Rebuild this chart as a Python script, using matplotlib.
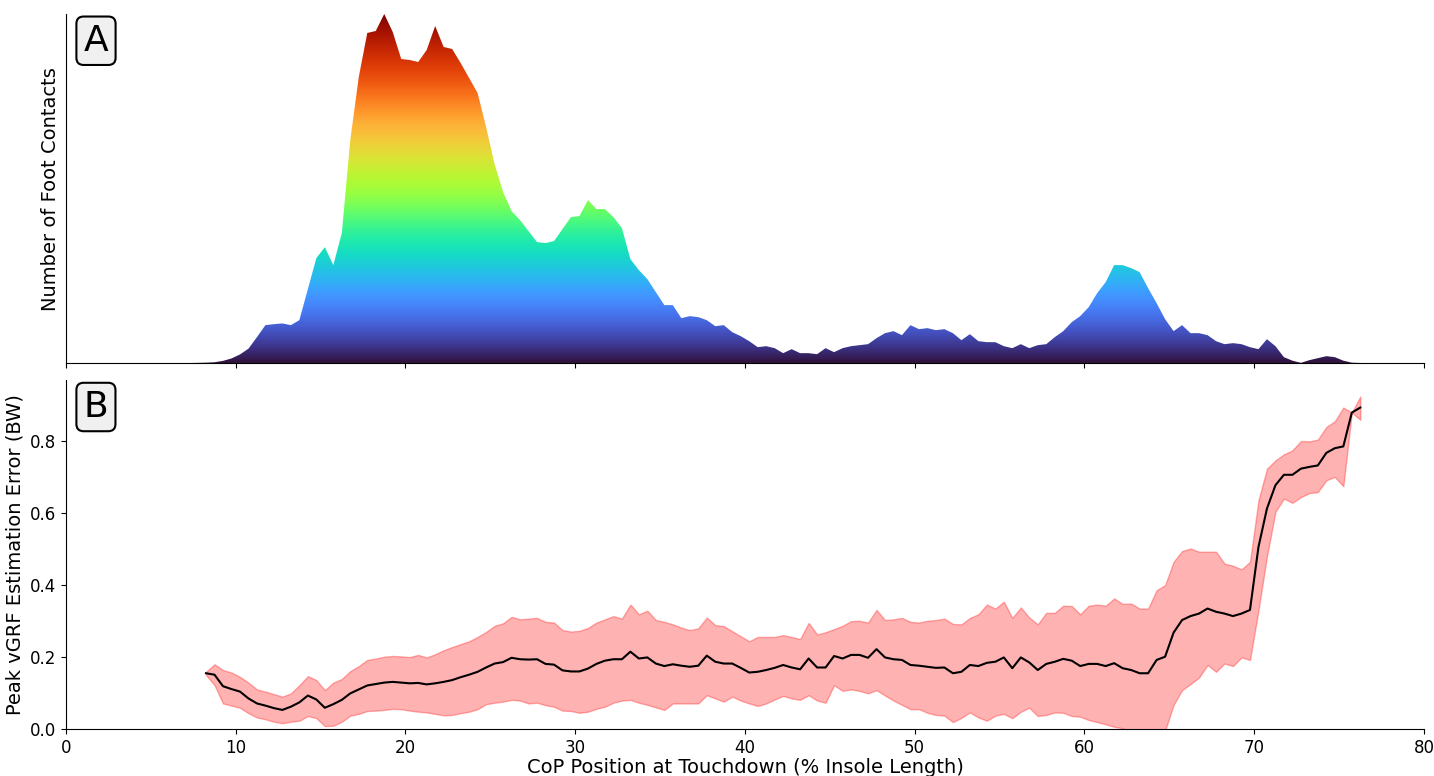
import numpy as np
import matplotlib
matplotlib.use('Agg')
import matplotlib.pyplot as plt

# panel A: foot contact counts per 0.5 % bin (centres start at 6.75)
contact_start = 6.75
contact_counts = [
    0, 0.1, 0.3, 0.5, 0.9, 2.3, 4.7, 8.7, 14.5, 26,
    38, 39, 39.7, 38, 43, 74, 105, 116, 98, 130,
    223, 286, 330, 332, 349, 331, 304, 303, 301, 313,
    337, 316, 314, 300, 285, 270, 236, 199, 171, 152,
    143, 132, 121, 120, 122, 134, 146, 147, 163, 154,
    154, 146, 135, 104, 93, 84, 71, 58, 58, 45,
    47, 46, 43, 37, 38, 31, 27, 22, 16, 17,
    15, 10, 14, 10, 10, 9, 15, 11, 15, 17,
    18, 19, 25, 30, 32, 28, 38, 34, 35, 33,
    34, 30, 23, 29, 22, 21, 21, 17, 15, 19,
    15, 18, 19, 26, 32, 41, 47, 56, 70, 81,
    98, 98, 95, 91, 75, 60, 44, 32, 38, 30,
    30, 28, 22, 19, 20, 19, 16, 14, 24, 17,
    6, 2.5, 0.3, 3, 5, 7, 6, 2.5, 0.5, 0.2,
    0.1, 0,
]

# panel B: peak vGRF error (BW), bins start at 8.25
error_start = 8.25
error_mean = [
    0.155, 0.151, 0.119, 0.111, 0.104, 0.085, 0.071, 0.065, 0.058, 0.053,
    0.062, 0.074, 0.093, 0.082, 0.059, 0.069, 0.081, 0.099, 0.110, 0.121,
    0.125, 0.129, 0.131, 0.129, 0.127, 0.128, 0.124, 0.127, 0.131, 0.136,
    0.144, 0.151, 0.159, 0.171, 0.182, 0.186, 0.198, 0.194, 0.193, 0.194,
    0.181, 0.179, 0.163, 0.160, 0.160, 0.168, 0.181, 0.190, 0.194, 0.194,
    0.215, 0.196, 0.199, 0.182, 0.175, 0.180, 0.176, 0.173, 0.176, 0.204,
    0.187, 0.182, 0.182, 0.170, 0.157, 0.159, 0.164, 0.170, 0.178, 0.171,
    0.166, 0.196, 0.171, 0.171, 0.203, 0.196, 0.206, 0.206, 0.198, 0.222,
    0.199, 0.194, 0.192, 0.178, 0.176, 0.173, 0.170, 0.171, 0.155, 0.159,
    0.178, 0.175, 0.184, 0.187, 0.199, 0.169, 0.199, 0.185, 0.164, 0.181,
    0.187, 0.195, 0.190, 0.175, 0.181, 0.181, 0.175, 0.183, 0.169, 0.164,
    0.155, 0.155, 0.192, 0.201, 0.268, 0.303, 0.314, 0.321, 0.335, 0.326,
    0.321, 0.314, 0.321, 0.331, 0.506, 0.613, 0.678, 0.707, 0.707, 0.724,
    0.729, 0.733, 0.768, 0.781, 0.786, 0.880, 0.894,
]
error_upper = [
    0.159, 0.180, 0.164, 0.157, 0.145, 0.129, 0.110, 0.104, 0.097, 0.090,
    0.099, 0.122, 0.147, 0.136, 0.108, 0.129, 0.139, 0.161, 0.175, 0.192,
    0.196, 0.201, 0.203, 0.202, 0.200, 0.206, 0.199, 0.208, 0.219, 0.228,
    0.236, 0.244, 0.256, 0.270, 0.287, 0.294, 0.312, 0.305, 0.307, 0.309,
    0.298, 0.296, 0.275, 0.271, 0.273, 0.281, 0.296, 0.305, 0.314, 0.307,
    0.346, 0.319, 0.329, 0.303, 0.298, 0.291, 0.282, 0.275, 0.280, 0.310,
    0.289, 0.286, 0.272, 0.258, 0.244, 0.256, 0.256, 0.256, 0.261, 0.256,
    0.250, 0.295, 0.263, 0.269, 0.278, 0.287, 0.300, 0.301, 0.296, 0.331,
    0.303, 0.305, 0.309, 0.298, 0.296, 0.301, 0.303, 0.307, 0.292, 0.291,
    0.309, 0.319, 0.346, 0.335, 0.354, 0.309, 0.338, 0.310, 0.291, 0.323,
    0.323, 0.343, 0.342, 0.319, 0.343, 0.346, 0.343, 0.363, 0.348, 0.349,
    0.335, 0.335, 0.386, 0.400, 0.465, 0.495, 0.502, 0.493, 0.493, 0.493,
    0.460, 0.454, 0.444, 0.465, 0.636, 0.724, 0.747, 0.764, 0.775, 0.801,
    0.800, 0.805, 0.840, 0.856, 0.894, 0.880, 0.925,
]
error_lower = [
    0.150, 0.122, 0.071, 0.065, 0.059, 0.044, 0.032, 0.027, 0.020, 0.016,
    0.020, 0.023, 0.036, 0.030, 0.008, 0.009, 0.020, 0.037, 0.042, 0.050,
    0.051, 0.053, 0.056, 0.055, 0.051, 0.048, 0.046, 0.042, 0.038, 0.039,
    0.044, 0.048, 0.055, 0.069, 0.073, 0.076, 0.081, 0.079, 0.071, 0.073,
    0.066, 0.062, 0.051, 0.050, 0.045, 0.048, 0.056, 0.062, 0.073, 0.079,
    0.081, 0.073, 0.067, 0.060, 0.053, 0.071, 0.071, 0.071, 0.071, 0.094,
    0.085, 0.076, 0.090, 0.079, 0.071, 0.064, 0.071, 0.082, 0.092, 0.085,
    0.081, 0.094, 0.079, 0.073, 0.122, 0.106, 0.110, 0.106, 0.099, 0.108,
    0.093, 0.079, 0.067, 0.055, 0.055, 0.045, 0.039, 0.037, 0.019, 0.031,
    0.046, 0.032, 0.023, 0.037, 0.042, 0.030, 0.048, 0.059, 0.036, 0.039,
    0.046, 0.045, 0.036, 0.034, 0.025, 0.019, 0.013, 0.006, 0.002, -0.010,
    -0.020, -0.020, -0.015, -0.005, 0.067, 0.108, 0.125, 0.143, 0.178, 0.159,
    0.182, 0.175, 0.199, 0.192, 0.330, 0.480, 0.604, 0.641, 0.629, 0.645,
    0.656, 0.659, 0.692, 0.701, 0.675, 0.880, 0.860,
]

bin_width = 0.5
x_counts = contact_start + bin_width * np.arange(len(contact_counts))
x_err = error_start + bin_width * np.arange(len(error_mean))
counts = np.array(contact_counts)

fig = plt.figure(figsize=(14.34, 7.76), dpi=100)
ax1 = fig.add_axes([0.046, 0.532, 0.947, 0.450])
ax2 = fig.add_axes([0.046, 0.0606, 0.947, 0.4494], sharex=ax1)

# --- A: area with height-coloured gradient (turbo)
ymax = counts.max()
poly = ax1.fill_between(x_counts, 0, counts, color='none', lw=0)
grad = np.linspace(0, 1, 256).reshape(-1, 1)
im = ax1.imshow(grad, cmap='turbo', origin='lower', aspect='auto',
                extent=[x_counts[0], x_counts[-1], 0, ymax], zorder=1)
im.set_clip_path(poly.get_paths()[0], transform=ax1.transData)
ax1.set_xlim(0, 80)
ax1.set_ylim(0, ymax)
ax1.set_yticks([])
ax1.set_ylabel('Number of Foot Contacts', fontsize=14)
ax1.tick_params(axis='x', labelbottom=False)
for s in ['top', 'right']:
    ax1.spines[s].set_visible(False)

# --- B: mean error with band
ax2.fill_between(x_err, error_lower, error_upper, color='red', alpha=0.3)
ax2.plot(x_err, error_mean, color='black', lw=1.5)
ax2.set_ylim(0, 0.97)
ax2.set_yticks([0.0, 0.2, 0.4, 0.6, 0.8])
ax2.set_ylabel('Peak vGRF Estimation Error (BW)', fontsize=14)
ax2.set_xlabel('CoP Position at Touchdown (% Insole Length)', fontsize=14, labelpad=1)
ax2.set_xticks(np.arange(0, 81, 10))
ax2.tick_params(labelsize=12)
for s in ['top', 'right']:
    ax2.spines[s].set_visible(False)

for ax, lab in [(ax1, 'A'), (ax2, 'B')]:
    ax.text(0.013, 0.972, lab, transform=ax.transAxes, fontsize=26,
            va='top', ha='left', zorder=5,
            bbox=dict(boxstyle='round,pad=0.2', fc='#f0f0f0', ec='black', lw=1.5))

fig.savefig('out.png', dpi=100)
